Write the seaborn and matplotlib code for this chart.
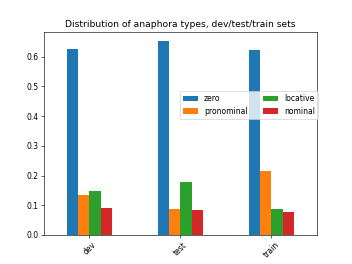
import matplotlib
matplotlib.use("Agg")
import matplotlib.pyplot as plt
import seaborn as sns
import pandas as pd

sets = ["dev", "test", "train"]
types = ["zero", "pronominal", "locative", "nominal"]
zero = [0.626, 0.652, 0.622]
pronominal = [0.136, 0.088, 0.215]
locative = [0.148, 0.180, 0.088]
nominal = [0.091, 0.083, 0.078]

rows = []
for t, vals in zip(types, [zero, pronominal, locative, nominal]):
    for s, v in zip(sets, vals):
        rows.append({"set": s, "type": t, "value": v})
df = pd.DataFrame(rows)

fig, ax = plt.subplots(figsize=(6.4, 4.8), dpi=55)
sns.barplot(data=df, x="set", y="value", hue="type", hue_order=types,
            order=sets, palette=["#1f77b4", "#ff7f0e", "#2ca02c", "#d62728"],
            width=0.5, saturation=1, linewidth=0, ax=ax)
ax.set_xlabel("")
ax.set_ylabel("")
ax.set_title("Distribution of anaphora types, dev/test/train sets")
ax.tick_params(axis="x", labelrotation=45)
ax.set_xlim(-0.5, 2.5)
ax.legend(ncol=2, loc="center right", bbox_to_anchor=(1.02, 0.64), title=None)
fig.savefig("out.png", dpi=55)
